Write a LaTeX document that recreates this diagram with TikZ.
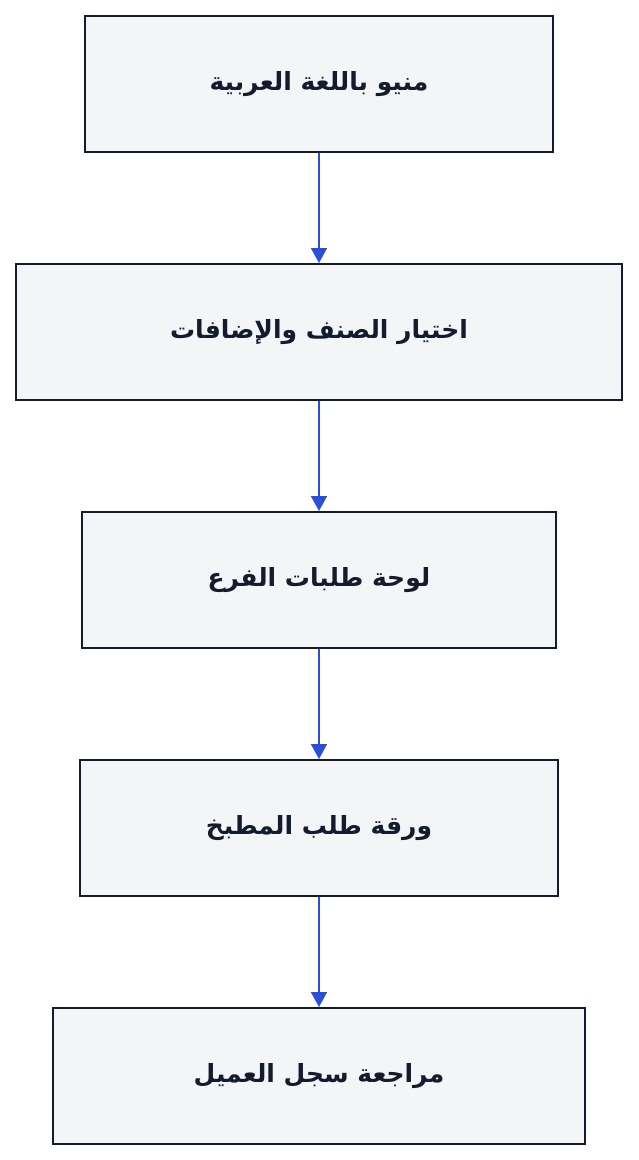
\documentclass[tikz,border=0pt]{standalone}
\usepackage{fontspec}
\usetikzlibrary{arrows.meta}
\TeXXeTstate=1
\newfontfamily\arabicfont[Script=Arabic]{DejaVu Sans}
\definecolor{boxfill}{HTML}{F4F5F7}
\definecolor{boxline}{HTML}{141B2D}
\definecolor{flowblue}{HTML}{2B4FD8}
\begin{document}
\begin{tikzpicture}
[x=1pt, y=-1pt, line width=2pt,
stage/.style={rectangle, draw=boxline, fill=boxfill, minimum height=136pt,
  inner sep=0pt, text=boxline, font=\arabicfont\bfseries\fontsize{25}{30}\selectfont},
flow/.style={draw=flowblue, line width=1.8pt, -{Triangle[width=16pt,length=15pt]}}]

\useasboundingbox (0,0) rectangle (638,1160);

\node[stage,minimum width=468pt] (menu) at (319, 84) {\beginR منيو باللغة العربية\endR};
\node[stage,minimum width=606pt] (choice) at (319, 332) {\beginR اختيار الصنف والإضافات\endR};
\node[stage,minimum width=474pt] (board) at (319, 580) {\beginR لوحة طلبات الفرع\endR};
\node[stage,minimum width=478pt] (ticket) at (319, 828) {\beginR ورقة طلب المطبخ\endR};
\node[stage,minimum width=532pt] (review) at (319, 1076) {\beginR مراجعة سجل العميل\endR};

\foreach \a/\b in {menu/choice, choice/board, board/ticket, ticket/review} {
    \draw[flow] (\a) -- (\b);
}

\end{tikzpicture}
\end{document}
